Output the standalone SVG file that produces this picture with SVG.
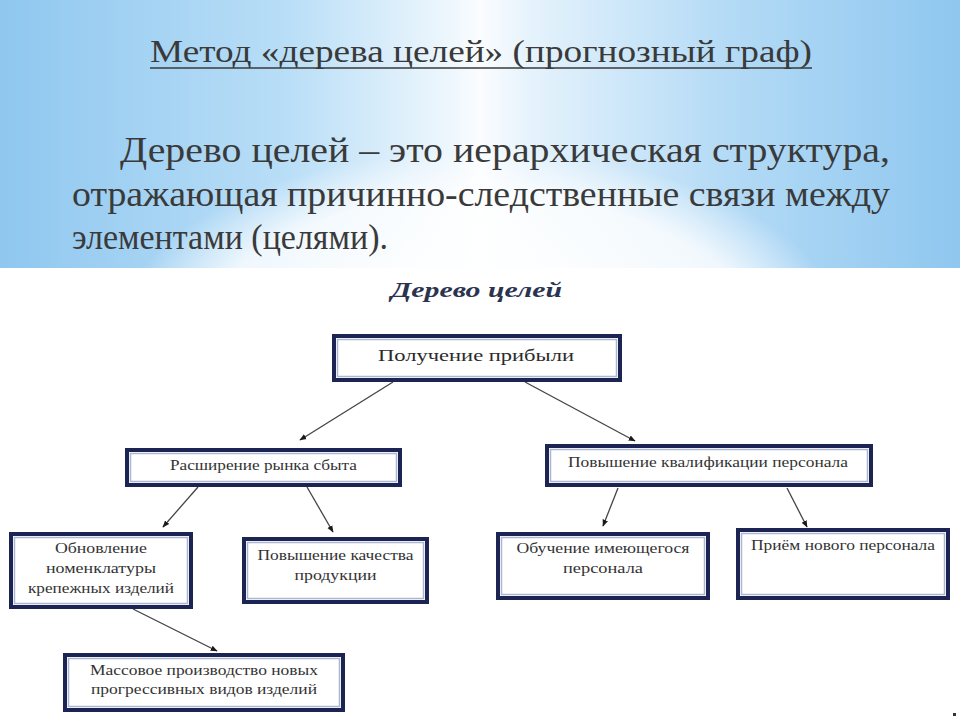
<svg xmlns="http://www.w3.org/2000/svg" width="960" height="720" viewBox="0 0 960 720">
<defs>
<linearGradient id="bgH" x1="0" y1="0" x2="1" y2="0">
<stop offset="0" stop-color="#8fc7ef"/>
<stop offset="0.3" stop-color="#b9def7"/>
<stop offset="0.47" stop-color="#eef7fd"/>
<stop offset="0.5" stop-color="#fbfdff"/>
<stop offset="0.55" stop-color="#e6f3fc"/>
<stop offset="0.75" stop-color="#b5dbf6"/>
<stop offset="1" stop-color="#8fc7ef"/>
</linearGradient>
<radialGradient id="glow" cx="480" cy="330" r="360" gradientUnits="userSpaceOnUse" gradientTransform="translate(480 330) scale(1 0.5) translate(-480 -330)">
<stop offset="0" stop-color="#ffffff" stop-opacity="1"/>
<stop offset="0.75" stop-color="#ffffff" stop-opacity="0.8"/>
<stop offset="1" stop-color="#ffffff" stop-opacity="0"/>
</radialGradient>
<marker id="arr" viewBox="0 0 10 10" refX="9" refY="5" markerWidth="7" markerHeight="7" markerUnits="userSpaceOnUse" orient="auto">
<path d="M0,1 L10,5 L0,9 Z" fill="#1a1a1a"/>
</marker>
</defs>
<style>
.outer{fill:#ffffff;stroke:#1b2452;stroke-width:4}
.inner{fill:none;stroke:#aab6d2;stroke-width:1.5}
.serif{font-family:"Liberation Serif","DejaVu Serif","Times New Roman",serif}
.bt{font-size:14px;fill:#333333;text-anchor:middle}
.conn{stroke:#444444;stroke-width:1.3;fill:none;marker-end:url(#arr)}
.head{fill:#3a3a3a}
</style>
<rect x="0" y="0" width="960" height="720" fill="#ffffff"/>
<rect x="0" y="0" width="960" height="268" fill="url(#bgH)"/>
<rect x="0" y="0" width="960" height="268" fill="url(#glow)"/>

<g id="title">
<text class="serif head" x="150" y="62" font-size="32" textLength="662" lengthAdjust="spacingAndGlyphs">Метод «дерева целей» (прогнозный граф)</text>
<line x1="150" y1="68" x2="812" y2="68" stroke="#3a3a3a" stroke-width="1.6"/>
</g>
<g id="paragraph">
<text class="serif head" x="120" y="162" font-size="36" textLength="770" lengthAdjust="spacingAndGlyphs">Дерево целей – это иерархическая структура,</text>
<text class="serif head" x="72" y="206" font-size="36" textLength="818" lengthAdjust="spacingAndGlyphs">отражающая причинно-следственные связи между</text>
<text class="serif head" x="72" y="249" font-size="36" textLength="316" lengthAdjust="spacingAndGlyphs">элементами (целями).</text>
</g>
<g id="diagram-title">
<text class="serif" x="391" y="297" font-size="22" font-weight="bold" font-style="italic" fill="#2a3350" textLength="171" lengthAdjust="spacingAndGlyphs">Дерево целей</text>
</g>

<g id="connectors">
<path class="conn" d="M393,382 L300,440"/>
<path class="conn" d="M525,382 L635,441"/>
<path class="conn" d="M198,487 L163,527"/>
<path class="conn" d="M307,487 L333,532"/>
<path class="conn" d="M618,488 L603,526"/>
<path class="conn" d="M787,488 L807,527"/>
<path class="conn" d="M133,609 L217,651"/>
</g>

<g id="node-root">
<rect class="outer" x="334" y="336" width="286" height="44"/>
<rect class="inner" x="337.5" y="339.5" width="279" height="37"/>
<text class="serif" x="476" y="361" font-size="17" fill="#2b2b2b" text-anchor="middle" textLength="196" lengthAdjust="spacingAndGlyphs">Получение прибыли</text>
</g>

<g id="node-market">
<rect class="outer" x="127" y="450" width="273" height="35"/>
<rect class="inner" x="130.5" y="453.5" width="266" height="28"/>
<text class="serif bt" x="263.5" y="470" textLength="187" lengthAdjust="spacingAndGlyphs">Расширение рынка сбыта</text>
</g>

<g id="node-qualif">
<rect class="outer" x="547" y="446" width="324" height="39"/>
<rect class="inner" x="550.5" y="449.5" width="317" height="32"/>
<text class="serif bt" x="708" y="467" textLength="280" lengthAdjust="spacingAndGlyphs">Повышение квалификации персонала</text>
</g>

<g id="node-nomen">
<rect class="outer" x="11" y="534" width="180" height="73"/>
<rect class="inner" x="14.5" y="537.5" width="173" height="66"/>
<text class="serif bt" x="101" y="553" textLength="92" lengthAdjust="spacingAndGlyphs">Обновление</text>
<text class="serif bt" x="101" y="573" textLength="110" lengthAdjust="spacingAndGlyphs">номенклатуры</text>
<text class="serif bt" x="101" y="593" textLength="146" lengthAdjust="spacingAndGlyphs">крепежных изделий</text>
</g>

<g id="node-quality">
<rect class="outer" x="244" y="539" width="183" height="63"/>
<rect class="inner" x="247.5" y="542.5" width="176" height="56"/>
<text class="serif bt" x="335.5" y="560" textLength="156" lengthAdjust="spacingAndGlyphs">Повышение качества</text>
<text class="serif bt" x="335.5" y="580" textLength="82" lengthAdjust="spacingAndGlyphs">продукции</text>
</g>

<g id="node-training">
<rect class="outer" x="498" y="534" width="210" height="64"/>
<rect class="inner" x="501.5" y="537.5" width="203" height="57"/>
<text class="serif bt" x="603" y="553" textLength="173" lengthAdjust="spacingAndGlyphs">Обучение имеющегося</text>
<text class="serif bt" x="603" y="573" textLength="80" lengthAdjust="spacingAndGlyphs">персонала</text>
</g>

<g id="node-hiring">
<rect class="outer" x="738" y="530" width="210" height="68"/>
<rect class="inner" x="741.5" y="533.5" width="203" height="61"/>
<text class="serif bt" x="843" y="550" textLength="184" lengthAdjust="spacingAndGlyphs">Приём нового персонала</text>
</g>

<g id="node-mass">
<rect class="outer" x="65" y="655" width="278" height="55"/>
<rect class="inner" x="68.5" y="658.5" width="271" height="48"/>
<text class="serif bt" x="204" y="675" textLength="228" lengthAdjust="spacingAndGlyphs">Массовое производство новых</text>
<text class="serif bt" x="204" y="694" textLength="226" lengthAdjust="spacingAndGlyphs">прогрессивных видов изделий</text>
</g>

<rect x="953" y="713" width="3" height="3" fill="#333333"/>
</svg>
